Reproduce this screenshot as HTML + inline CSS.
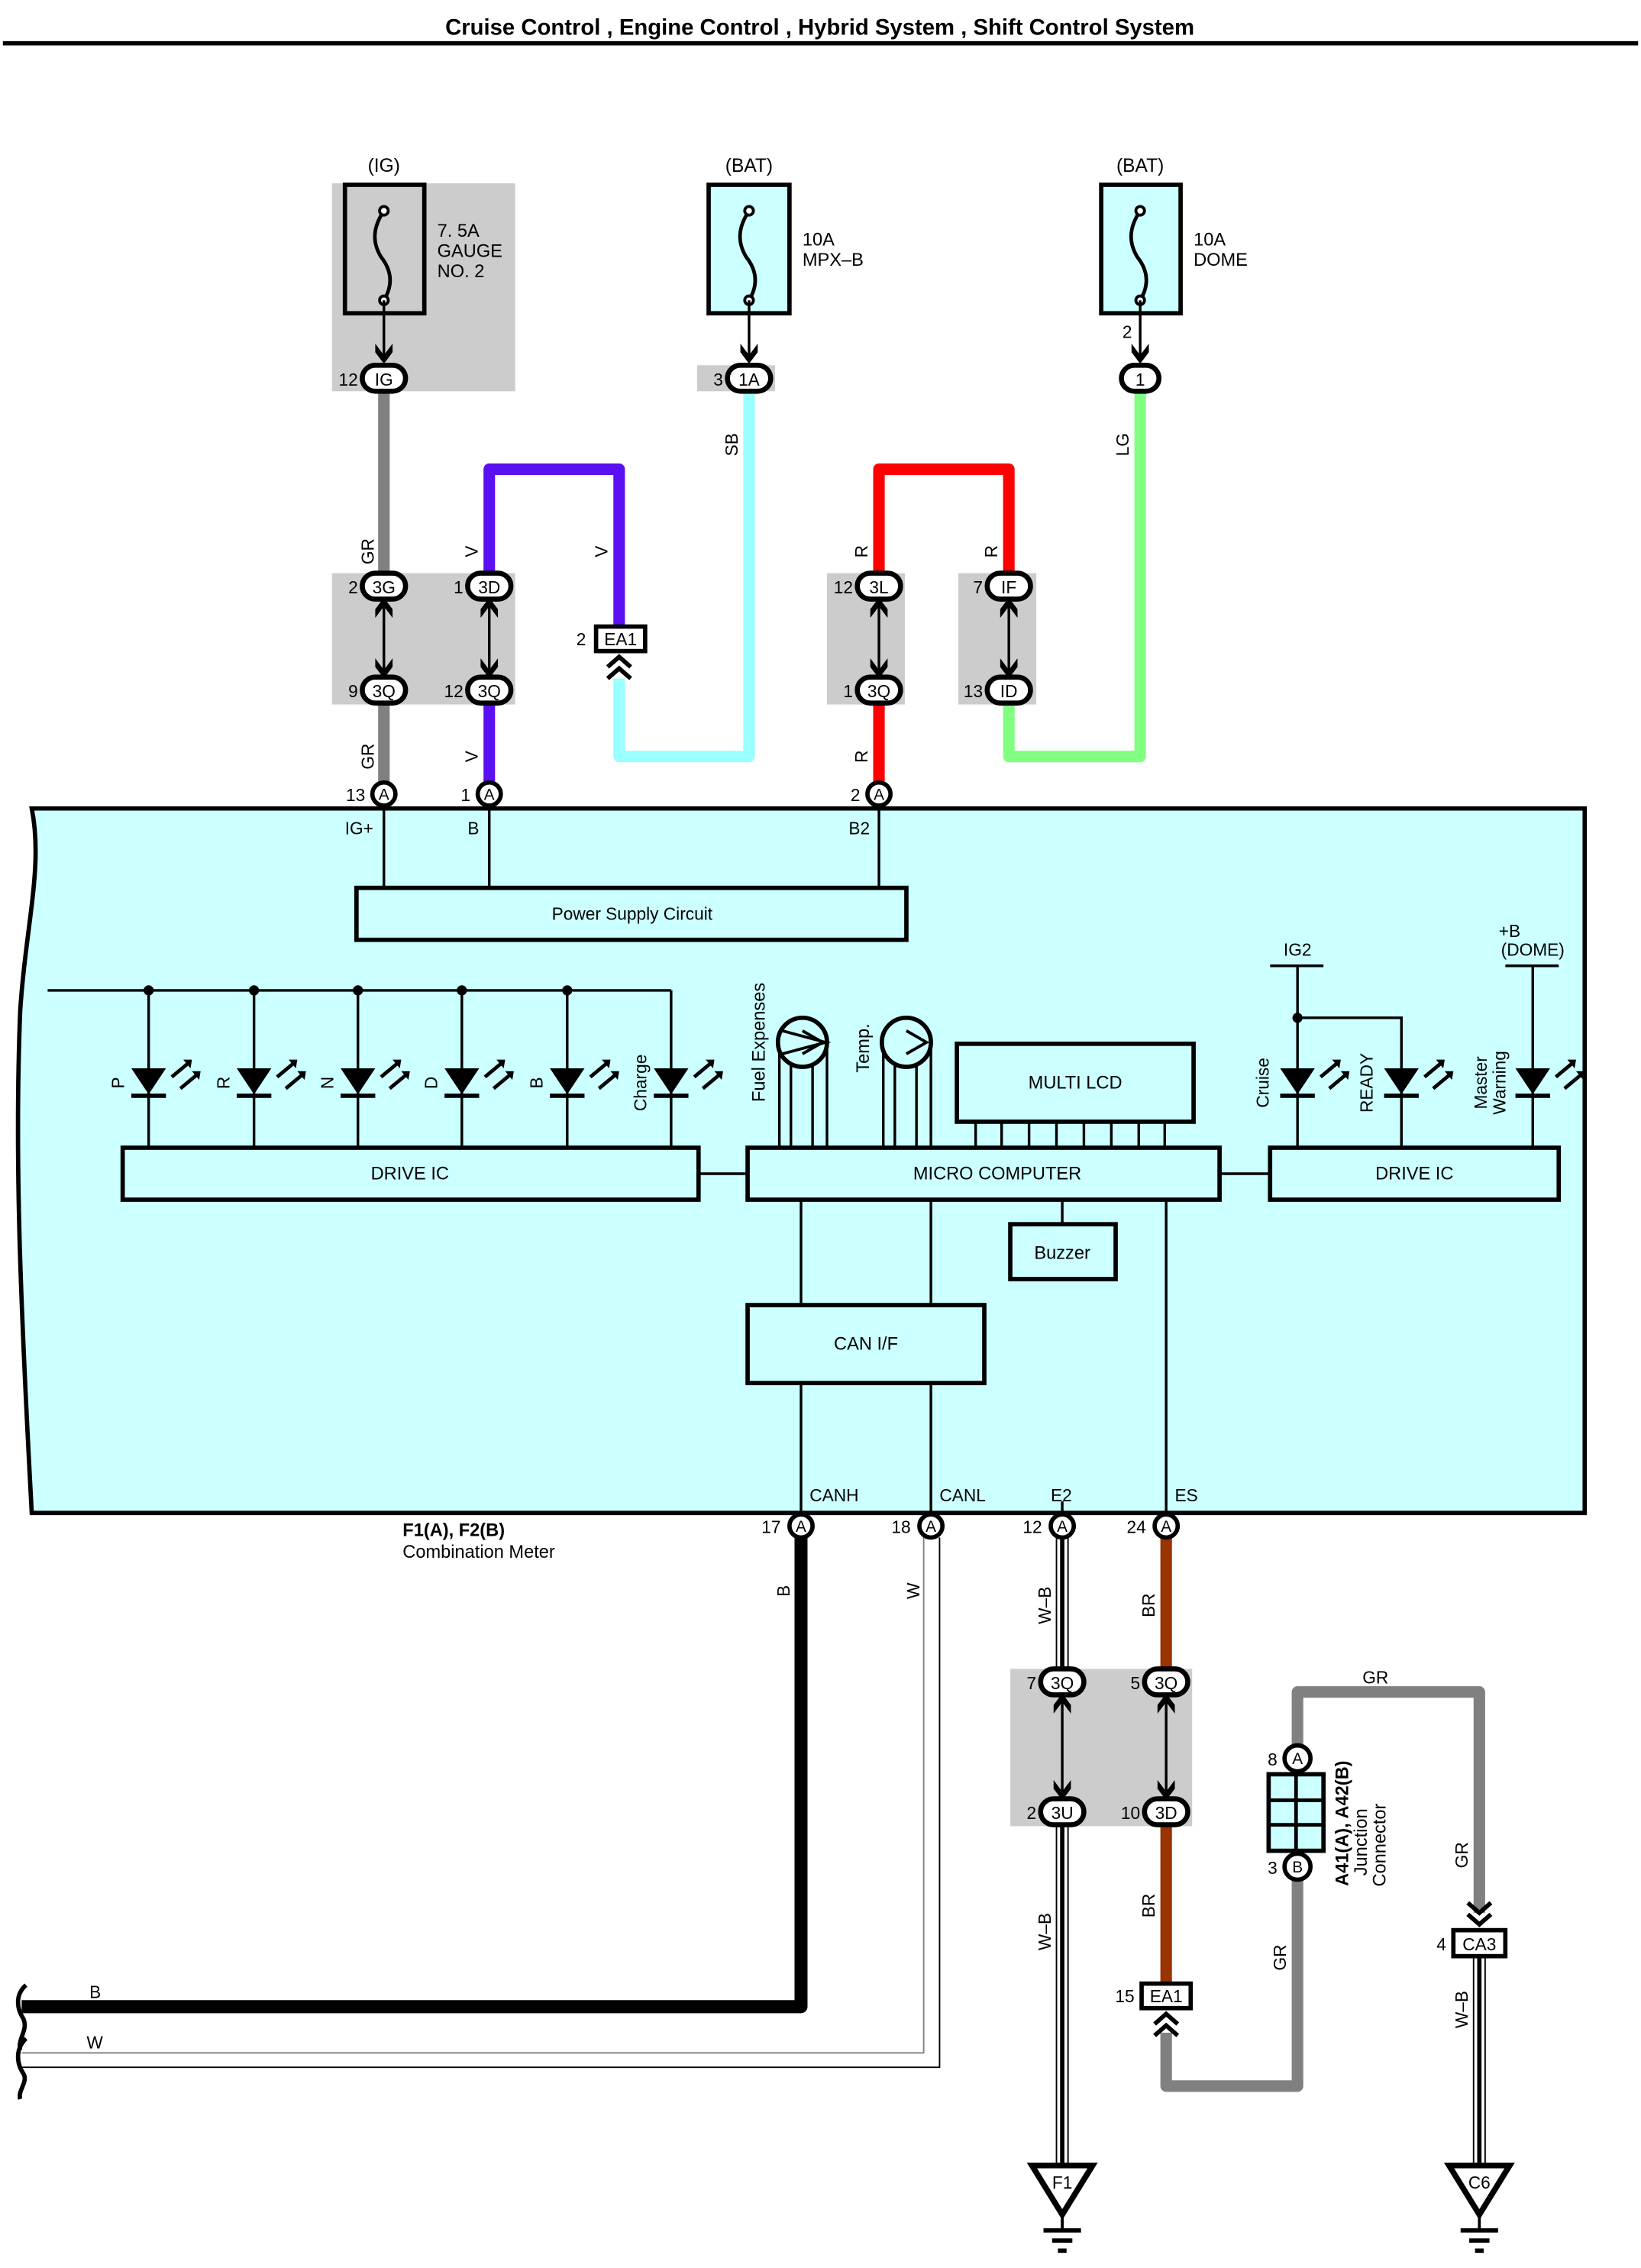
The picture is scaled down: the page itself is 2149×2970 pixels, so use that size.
<!DOCTYPE html>
<html><head><meta charset="utf-8"><style>
html,body{margin:0;padding:0;background:#fff;}
svg{display:block;}
text{font-family:"Liberation Sans",sans-serif;fill:#000;}
</style></head><body>
<svg width="2149" height="2970" viewBox="0 0 1137 1571" preserveAspectRatio="none" xmlns="http://www.w3.org/2000/svg">
<defs>
<g id="dn"><path d="M-6,-10 L0,-2 L6,-10 L6,-4 L0,4 L-6,-4 Z" fill="#000"/></g>
<g id="led"><path d="M-12,0 L12,0 L0,18 Z" fill="#000"/><line x1="-12" y1="19" x2="12" y2="19" stroke="#000" stroke-width="3"/><path d="M16,6 L28,-4 M22,14 L34,4" stroke="#000" stroke-width="2.5"/><path d="M24,-6 L30,-6 L29,0Z M30,2 L36,2 L35,8Z" fill="#000"/></g>
<g id="gnd"><path d="M-21,0 L21,0 L0,34 Z" fill="#fff" stroke="#000" stroke-width="4"/><line x1="0" y1="34" x2="0" y2="45" stroke="#000" stroke-width="2"/><line x1="-13" y1="45" x2="13" y2="45" stroke="#000" stroke-width="3"/><line x1="-7" y1="52" x2="7" y2="52" stroke="#000" stroke-width="3"/><line x1="-3" y1="59" x2="3" y2="59" stroke="#000" stroke-width="3"/></g>
<g id="fuse"><path d="M0,-32 C-8,-20 -8,-10 -2,0 C6,10 6,20 0,30" fill="none" stroke="#000" stroke-width="2.5"/><circle cx="0" cy="-32" r="3" fill="#fff" stroke="#000" stroke-width="2"/><circle cx="0" cy="30" r="3" fill="#fff" stroke="#000" stroke-width="2"/></g>
</defs>

<text x="568" y="24" font-size="15.5" font-weight="bold" text-anchor="middle">Cruise Control , Engine Control , Hybrid System , Shift Control System</text>
<line x1="2" y1="30" x2="1135" y2="30" stroke="#000" stroke-width="3"/>

<rect x="230" y="127" width="127" height="144" fill="#cccccc"/>
<rect x="483" y="253" width="54" height="18" fill="#cccccc"/>
<rect x="230" y="397" width="127" height="91" fill="#cccccc"/>
<rect x="573" y="397" width="54" height="91" fill="#cccccc"/>
<rect x="664" y="397" width="54" height="91" fill="#cccccc"/>
<rect x="700" y="1156" width="126" height="109" fill="#cccccc"/>

<text x="266" y="119" font-size="13" text-anchor="middle">(IG)</text>
<text x="519" y="119" font-size="13" text-anchor="middle">(BAT)</text>
<text x="790" y="119" font-size="13" text-anchor="middle">(BAT)</text>
<rect x="239" y="128" width="55" height="89" fill="#cccccc" stroke="#000" stroke-width="3"/>
<rect x="491" y="128" width="56" height="89" fill="#ccffff" stroke="#000" stroke-width="3"/>
<rect x="763" y="128" width="55" height="89" fill="#ccffff" stroke="#000" stroke-width="3"/>
<use href="#fuse" x="266" y="178"/><use href="#fuse" x="519" y="178"/><use href="#fuse" x="790" y="178"/>
<text font-size="12.5"><tspan x="303" y="164">7. 5A</tspan><tspan x="303" y="178">GAUGE</tspan><tspan x="303" y="192">NO. 2</tspan></text>
<text font-size="12.5"><tspan x="556" y="170">10A</tspan><tspan x="556" y="184">MPX–B</tspan></text>
<text font-size="12.5"><tspan x="827" y="170">10A</tspan><tspan x="827" y="184">DOME</tspan></text>
<g stroke="#000" stroke-width="1.8"><line x1="266" y1="208" x2="266" y2="248"/><line x1="519" y1="208" x2="519" y2="248"/><line x1="790" y1="208" x2="790" y2="248"/></g>
<use href="#dn" x="266" y="248"/><use href="#dn" x="519" y="248"/><use href="#dn" x="790" y="248"/>
<text x="781" y="234" font-size="12" text-anchor="middle">2</text>

<g fill="none" stroke-linejoin="round">
<path d="M266,270 V397 M266,487 V545" stroke="#808080" stroke-width="8"/>
<path d="M339,545 V487 M339,397 V325 H429 V434" stroke="#5a10f0" stroke-width="8"/>
<path d="M429,470 V524 H519 V270" stroke="#99ffff" stroke-width="8"/>
<path d="M609,545 V487 M609,397 V325 H699 V397" stroke="#ff0000" stroke-width="8"/>
<path d="M699,487 V524 H790 V270" stroke="#80ff80" stroke-width="8"/>
</g>
<g font-size="12">
<text transform="translate(259,382) rotate(-90)" text-anchor="middle">GR</text>
<text transform="translate(259,524) rotate(-90)" text-anchor="middle">GR</text>
<text transform="translate(331,382) rotate(-90)" text-anchor="middle">V</text>
<text transform="translate(331,524) rotate(-90)" text-anchor="middle">V</text>
<text transform="translate(421,382) rotate(-90)" text-anchor="middle">V</text>
<text transform="translate(511,308) rotate(-90)" text-anchor="middle">SB</text>
<text transform="translate(601,382) rotate(-90)" text-anchor="middle">R</text>
<text transform="translate(601,524) rotate(-90)" text-anchor="middle">R</text>
<text transform="translate(691,382) rotate(-90)" text-anchor="middle">R</text>
<text transform="translate(782,308) rotate(-90)" text-anchor="middle">LG</text>
</g>

<!-- bottom wires -->
<g fill="none" stroke-linejoin="round">
<path d="M555,1065 V1390 H15" stroke="#000" stroke-width="9"/>
<path d="M640,1065 V1422 H15" stroke="#808080" stroke-width="1"/>
<path d="M651,1065 V1432 H15" stroke="#000" stroke-width="1"/>
<path d="M732,1065 V1156 M740,1065 V1156 M732,1264 V1500 M740,1264 V1500" stroke="#000" stroke-width="1"/>
<path d="M736,1065 V1156 M736,1264 V1500" stroke="#000" stroke-width="3"/>
<path d="M808,1065 V1156 M808,1264 V1374" stroke="#993300" stroke-width="8"/>
<path d="M808,1408 V1445 H899 V1300 M899,1210 V1172 H1025 V1325" stroke="#808080" stroke-width="8"/>
<path d="M1021,1355 V1500 M1029,1355 V1500" stroke="#000" stroke-width="1"/>
<path d="M1025,1355 V1500" stroke="#000" stroke-width="3"/>
</g>

<g stroke="#000" stroke-width="1.8">
<line x1="266" y1="418" x2="266" y2="466"/><line x1="339" y1="418" x2="339" y2="466"/>
<line x1="609" y1="418" x2="609" y2="466"/><line x1="699" y1="418" x2="699" y2="466"/>
<line x1="736" y1="1177" x2="736" y2="1243"/><line x1="808" y1="1177" x2="808" y2="1243"/>
</g>
<g>
<use href="#dn" x="266" y="466"/><use href="#dn" x="339" y="466"/><use href="#dn" x="609" y="466"/><use href="#dn" x="699" y="466"/>
<use href="#dn" transform="translate(266,418) rotate(180)"/><use href="#dn" transform="translate(339,418) rotate(180)"/>
<use href="#dn" transform="translate(609,418) rotate(180)"/><use href="#dn" transform="translate(699,418) rotate(180)"/>
<use href="#dn" x="736" y="1243"/><use href="#dn" x="808" y="1243"/>
<use href="#dn" transform="translate(736,1177) rotate(180)"/><use href="#dn" transform="translate(808,1177) rotate(180)"/>
</g>

<g fill="#fff" stroke="#000" stroke-width="3.5">
<rect x="251" y="253" width="30" height="18" rx="9"/>
<rect x="504" y="253" width="30" height="18" rx="9"/>
<rect x="777" y="253" width="26" height="18" rx="9"/>
<rect x="251" y="397" width="30" height="18" rx="9"/><rect x="324" y="397" width="30" height="18" rx="9"/>
<rect x="251" y="469" width="30" height="18" rx="9"/><rect x="324" y="469" width="30" height="18" rx="9"/>
<rect x="594" y="397" width="30" height="18" rx="9"/><rect x="684" y="397" width="30" height="18" rx="9"/>
<rect x="594" y="469" width="30" height="18" rx="9"/><rect x="684" y="469" width="30" height="18" rx="9"/>
<rect x="721" y="1156" width="30" height="18" rx="9"/><rect x="793" y="1156" width="30" height="18" rx="9"/>
<rect x="721" y="1246" width="30" height="18" rx="9"/><rect x="793" y="1246" width="30" height="18" rx="9"/>
</g>
<g font-size="12" text-anchor="middle">
<text x="266" y="267">IG</text><text x="519" y="267">1A</text><text x="790" y="267">1</text>
<text x="266" y="411">3G</text><text x="339" y="411">3D</text><text x="266" y="483">3Q</text><text x="339" y="483">3Q</text>
<text x="609" y="411">3L</text><text x="699" y="411">IF</text><text x="609" y="483">3Q</text><text x="699" y="483">ID</text>
<text x="736" y="1170">3Q</text><text x="808" y="1170">3Q</text><text x="736" y="1260">3U</text><text x="808" y="1260">3D</text>
</g>
<g font-size="12" text-anchor="end">
<text x="248" y="267">12</text><text x="501" y="267">3</text>
<text x="248" y="411">2</text><text x="321" y="411">1</text><text x="248" y="483">9</text><text x="321" y="483">12</text>
<text x="591" y="411">12</text><text x="681" y="411">7</text><text x="591" y="483">1</text><text x="681" y="483">13</text>
<text x="718" y="1170">7</text><text x="790" y="1170">5</text><text x="718" y="1260">2</text><text x="790" y="1260">10</text>
</g>

<rect x="413" y="434" width="34" height="17" fill="#fff" stroke="#000" stroke-width="3"/>
<text x="430" y="447" font-size="12" text-anchor="middle">EA1</text>
<text x="406" y="447" font-size="12" text-anchor="end">2</text>
<path d="M421,462 L429,455 L437,462 M421,470 L429,463 L437,470" fill="none" stroke="#000" stroke-width="3"/>

<path d="M22,560 H1098 V1048 H22 C14,900 10,800 14,700 C18,640 30,600 22,560 Z" fill="#ccffff" stroke="#000" stroke-width="3"/>
<g fill="#fff" stroke="#000" stroke-width="3"><circle cx="266" cy="550" r="8"/><circle cx="339" cy="550" r="8"/><circle cx="609" cy="550" r="8"/></g>
<g font-size="11" text-anchor="middle"><text x="266" y="554">A</text><text x="339" y="554">A</text><text x="609" y="554">A</text></g>
<g font-size="12" text-anchor="end"><text x="253" y="555">13</text><text x="326" y="555">1</text><text x="596" y="555">2</text></g>
<g font-size="12"><text x="239" y="578">IG+</text><text x="324" y="578">B</text><text x="588" y="578">B2</text></g>
<g stroke="#000" stroke-width="1.8">
<line x1="266" y1="558" x2="266" y2="615"/><line x1="339" y1="558" x2="339" y2="615"/><line x1="609" y1="558" x2="609" y2="615"/>
</g>
<rect x="247" y="615" width="381" height="36" fill="none" stroke="#000" stroke-width="3"/>
<text x="438" y="637" font-size="12" text-anchor="middle">Power Supply Circuit</text>

<g stroke="#000" stroke-width="1.8">
<line x1="33" y1="686" x2="465" y2="686"/>
<line x1="103" y1="686" x2="103" y2="795"/><line x1="176" y1="686" x2="176" y2="795"/><line x1="248" y1="686" x2="248" y2="795"/>
<line x1="320" y1="686" x2="320" y2="795"/><line x1="393" y1="686" x2="393" y2="795"/><line x1="465" y1="686" x2="465" y2="795"/>
</g>
<g fill="#000"><circle cx="103" cy="686" r="3.5"/><circle cx="176" cy="686" r="3.5"/><circle cx="248" cy="686" r="3.5"/><circle cx="320" cy="686" r="3.5"/><circle cx="393" cy="686" r="3.5"/></g>
<use href="#led" x="103" y="740"/><use href="#led" x="176" y="740"/><use href="#led" x="248" y="740"/>
<use href="#led" x="320" y="740"/><use href="#led" x="393" y="740"/><use href="#led" x="465" y="740"/>
<g font-size="12">
<text transform="translate(86,750) rotate(-90)" text-anchor="middle">P</text>
<text transform="translate(159,750) rotate(-90)" text-anchor="middle">R</text>
<text transform="translate(231,750) rotate(-90)" text-anchor="middle">N</text>
<text transform="translate(303,750) rotate(-90)" text-anchor="middle">D</text>
<text transform="translate(376,750) rotate(-90)" text-anchor="middle">B</text>
<text transform="translate(448,750) rotate(-90)" text-anchor="middle">Charge</text>
</g>
<rect x="85" y="795" width="399" height="36" fill="none" stroke="#000" stroke-width="3"/>
<text x="284" y="817" font-size="12.5" text-anchor="middle">DRIVE IC</text>

<g stroke="#000" stroke-width="1.8">
<line x1="540" y1="722" x2="540" y2="795"/><line x1="548" y1="738" x2="548" y2="795"/><line x1="563" y1="738" x2="563" y2="795"/><line x1="573" y1="722" x2="573" y2="795"/>
<line x1="612" y1="722" x2="612" y2="795"/><line x1="620" y1="738" x2="620" y2="795"/><line x1="635" y1="738" x2="635" y2="795"/><line x1="645" y1="722" x2="645" y2="795"/>
</g>
<g fill="#ccffff" stroke="#000" stroke-width="3"><circle cx="556" cy="722" r="17"/><circle cx="628" cy="722" r="17"/></g>
<path d="M542,714 L572,722 L542,730 M628,714 L642,722 L628,730 M556,714 L570,722 L556,730" fill="none" stroke="#000" stroke-width="2"/>
<text transform="translate(530,722) rotate(-90)" font-size="12.5" text-anchor="middle">Fuel Expenses</text>
<text transform="translate(602,726) rotate(-90)" font-size="12.5" text-anchor="middle">Temp.</text>
<rect x="663" y="723" width="164" height="54" fill="#ccffff" stroke="#000" stroke-width="3"/>
<text x="745" y="754" font-size="12.5" text-anchor="middle">MULTI LCD</text>
<g stroke="#000" stroke-width="1.8">
<line x1="676" y1="777" x2="676" y2="795"/><line x1="694" y1="777" x2="694" y2="795"/><line x1="713" y1="777" x2="713" y2="795"/><line x1="732" y1="777" x2="732" y2="795"/>
<line x1="751" y1="777" x2="751" y2="795"/><line x1="770" y1="777" x2="770" y2="795"/><line x1="789" y1="777" x2="789" y2="795"/><line x1="807" y1="777" x2="807" y2="795"/>
</g>
<rect x="518" y="795" width="327" height="36" fill="none" stroke="#000" stroke-width="3"/>
<text x="691" y="817" font-size="12.5" text-anchor="middle">MICRO COMPUTER</text>
<g stroke="#000" stroke-width="1.8">
<line x1="484" y1="813" x2="518" y2="813"/><line x1="845" y1="813" x2="880" y2="813"/>
<line x1="736" y1="831" x2="736" y2="848"/>
<line x1="555" y1="831" x2="555" y2="903"/><line x1="645" y1="831" x2="645" y2="903"/>
<line x1="555" y1="958" x2="555" y2="1048"/><line x1="645" y1="958" x2="645" y2="1048"/>
<line x1="736" y1="1040" x2="736" y2="1048"/>
<line x1="808" y1="831" x2="808" y2="1048"/>
</g>
<rect x="700" y="848" width="73" height="38" fill="none" stroke="#000" stroke-width="3"/>
<text x="736" y="872" font-size="12.5" text-anchor="middle">Buzzer</text>
<rect x="518" y="904" width="164" height="54" fill="none" stroke="#000" stroke-width="3"/>
<text x="600" y="935" font-size="12.5" text-anchor="middle">CAN I/F</text>

<g stroke="#000" stroke-width="1.8">
<line x1="880" y1="669" x2="917" y2="669"/><line x1="899" y1="669" x2="899" y2="795"/>
<polyline points="899,705 971,705 971,795" fill="none"/>
<line x1="1043" y1="669" x2="1080" y2="669"/><line x1="1062" y1="669" x2="1062" y2="795"/>
</g>
<circle cx="899" cy="705" r="3.5" fill="#000"/>
<use href="#led" x="899" y="740"/><use href="#led" x="971" y="740"/><use href="#led" x="1062" y="740"/>
<text x="899" y="662" font-size="12" text-anchor="middle">IG2</text>
<text font-size="12" text-anchor="middle"><tspan x="1046" y="649">+B</tspan><tspan x="1062" y="662">(DOME)</tspan></text>
<text transform="translate(879,750) rotate(-90)" font-size="12" text-anchor="middle">Cruise</text>
<text transform="translate(951,750) rotate(-90)" font-size="12" text-anchor="middle">READY</text>
<text transform="translate(1030,750) rotate(-90)" font-size="12" text-anchor="middle">Master</text>
<text transform="translate(1043,750) rotate(-90)" font-size="12" text-anchor="middle">Warning</text>
<rect x="880" y="795" width="200" height="36" fill="none" stroke="#000" stroke-width="3"/>
<text x="980" y="817" font-size="12.5" text-anchor="middle">DRIVE IC</text>

<g font-size="12"><text x="561" y="1040">CANH</text><text x="651" y="1040">CANL</text><text x="728" y="1040">E2</text><text x="814" y="1040">ES</text></g>
<text x="279" y="1064" font-size="12.5" font-weight="bold">F1(A), F2(B)</text>
<text x="279" y="1079" font-size="12.5">Combination Meter</text>

<path d="M18,1375 C10,1382 12,1392 16,1398 C20,1406 12,1412 14,1420 M18,1412 C10,1420 12,1430 16,1436 C20,1442 12,1448 14,1454" fill="none" stroke="#000" stroke-width="3"/>
<g font-size="12"><text x="62" y="1384">B</text><text x="60" y="1419">W</text><text x="944" y="1166">GR</text></g>
<g font-size="12">
<text transform="translate(547,1102) rotate(-90)" text-anchor="middle">B</text>
<text transform="translate(637,1102) rotate(-90)" text-anchor="middle">W</text>
<text transform="translate(728,1112) rotate(-90)" text-anchor="middle">W–B</text>
<text transform="translate(800,1112) rotate(-90)" text-anchor="middle">BR</text>
<text transform="translate(728,1338) rotate(-90)" text-anchor="middle">W–B</text>
<text transform="translate(800,1320) rotate(-90)" text-anchor="middle">BR</text>
<text transform="translate(891,1356) rotate(-90)" text-anchor="middle">GR</text>
<text transform="translate(1017,1285) rotate(-90)" text-anchor="middle">GR</text>
<text transform="translate(1017,1392) rotate(-90)" text-anchor="middle">W–B</text>
</g>
<g fill="#fff" stroke="#000" stroke-width="3"><circle cx="555" cy="1057" r="8"/><circle cx="645" cy="1057" r="8"/><circle cx="736" cy="1057" r="8"/><circle cx="808" cy="1057" r="8"/>
<circle cx="899" cy="1218" r="9"/><circle cx="899" cy="1293" r="9"/></g>
<g font-size="11" text-anchor="middle"><text x="555" y="1061">A</text><text x="645" y="1061">A</text><text x="736" y="1061">A</text><text x="808" y="1061">A</text>
<text x="899" y="1222">A</text><text x="899" y="1297">B</text></g>
<g font-size="12" text-anchor="end"><text x="541" y="1062">17</text><text x="631" y="1062">18</text><text x="722" y="1062">12</text><text x="794" y="1062">24</text>
<text x="885" y="1223">8</text><text x="885" y="1298">3</text></g>

<rect x="879" y="1229" width="38" height="53" fill="#ccffff" stroke="#000" stroke-width="3"/>
<g stroke="#000" stroke-width="2.5"><line x1="898" y1="1229" x2="898" y2="1282"/><line x1="879" y1="1247" x2="917" y2="1247"/><line x1="879" y1="1264" x2="917" y2="1264"/></g>
<text transform="translate(934,1263) rotate(-90)" font-size="12.5" font-weight="bold" text-anchor="middle">A41(A), A42(B)</text>
<text transform="translate(947,1276) rotate(-90)" font-size="12.5" text-anchor="middle">Junction</text>
<text transform="translate(960,1278) rotate(-90)" font-size="12.5" text-anchor="middle">Connector</text>

<rect x="791" y="1374" width="34" height="17" fill="#fff" stroke="#000" stroke-width="3"/>
<text x="808" y="1387" font-size="12" text-anchor="middle">EA1</text>
<text x="786" y="1387" font-size="12" text-anchor="end">15</text>
<path d="M800,1402 L808,1395 L816,1402 M800,1410 L808,1403 L816,1410" fill="none" stroke="#000" stroke-width="3"/>
<path d="M1017,1318 L1025,1325 L1033,1318 M1017,1326 L1025,1333 L1033,1326" fill="none" stroke="#000" stroke-width="3"/>
<rect x="1007" y="1337" width="36" height="18" fill="#fff" stroke="#000" stroke-width="3"/>
<text x="1025" y="1351" font-size="12" text-anchor="middle">CA3</text>
<text x="1002" y="1351" font-size="12" text-anchor="end">4</text>

<use href="#gnd" x="736" y="1500"/><use href="#gnd" x="1025" y="1500"/>
<text x="736" y="1516" font-size="12" text-anchor="middle">F1</text>
<text x="1025" y="1516" font-size="12" text-anchor="middle">C6</text>
</svg>
</body></html>
